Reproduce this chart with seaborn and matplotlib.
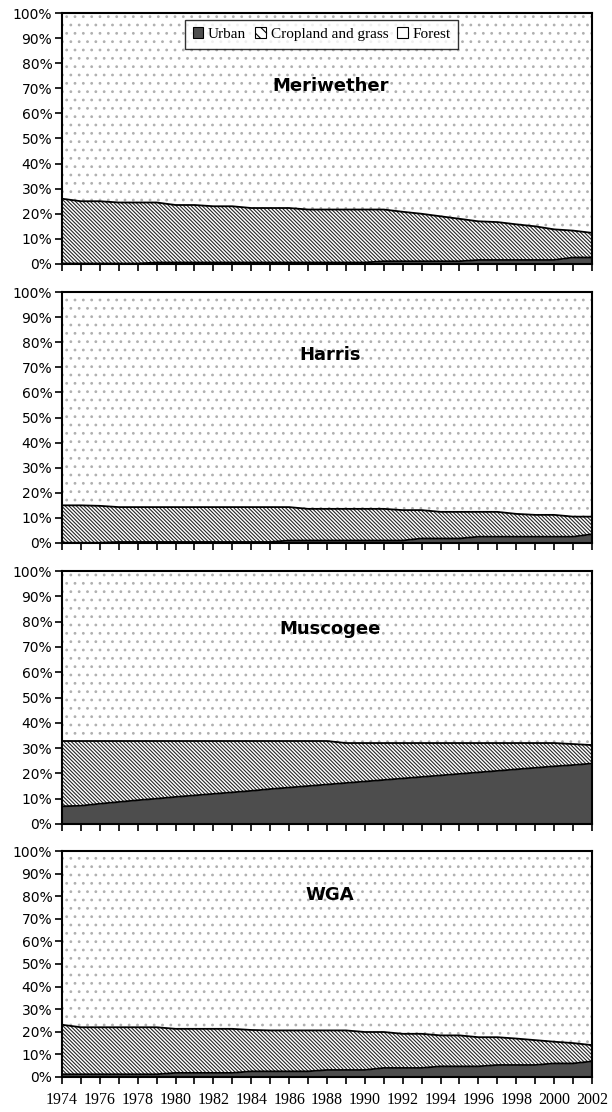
import matplotlib
matplotlib.use("Agg")
import matplotlib.pyplot as plt
from matplotlib.patches import Patch
import seaborn as sns
import pandas as pd

years = list(range(1974, 2003))
counties = ["Meriwether", "Harris", "Muscogee", "WGA"]

# land cover shares in percent (forest is the rest up to 100)
meriwether_urban = [0.2, 0.2, 0.2, 0.2, 0.2, 0.6, 0.6, 0.6, 0.6, 0.6, 0.6, 0.6, 0.6, 0.6, 0.6,
                    0.6, 0.6, 1.1, 1.1, 1.1, 1.1, 1.1, 1.6, 1.6, 1.6, 1.6, 1.6, 2.6, 2.6]
meriwether_crop = [25.8, 24.8, 24.8, 24.3, 24.3, 23.9, 22.9, 22.9, 22.4, 22.4, 21.7, 21.7, 21.7, 21.1, 21.1,
                   21.1, 21.1, 20.6, 19.7, 18.9, 17.9, 16.9, 15.4, 15.1, 14.2, 13.4, 12.2, 10.7, 9.8]

harris_urban = [0.1, 0.1, 0.1, 0.4, 0.4, 0.4, 0.4, 0.4, 0.4, 0.4, 0.4, 0.4, 1.0, 1.0, 1.0,
                1.0, 1.0, 1.0, 1.0, 1.8, 1.8, 1.8, 2.5, 2.5, 2.5, 2.5, 2.5, 2.5, 3.5]
harris_crop = [14.9, 14.9, 14.7, 13.9, 13.9, 13.9, 13.9, 13.9, 13.9, 13.9, 13.9, 13.9, 13.3, 12.6, 12.6,
               12.6, 12.6, 12.6, 12.1, 11.3, 10.6, 10.6, 9.9, 9.9, 9.1, 8.7, 8.7, 8.0, 7.0]

muscogee_urban = [7.0, 7.2, 8.0, 8.7, 9.4, 10.0, 10.7, 11.3, 11.9, 12.5, 13.1, 13.8, 14.4, 15.0, 15.6,
                  16.2, 16.8, 17.4, 18.0, 18.6, 19.2, 19.8, 20.4, 21.0, 21.6, 22.2, 22.8, 23.3, 23.9]
muscogee_crop = [25.8, 25.6, 24.8, 24.1, 23.4, 22.8, 22.1, 21.5, 20.9, 20.3, 19.7, 19.0, 18.4, 17.8, 17.2,
                 15.8, 15.2, 14.6, 14.0, 13.4, 12.8, 12.2, 11.6, 11.0, 10.4, 9.8, 9.2, 8.3, 7.3]

wga_urban = [1.2, 1.2, 1.2, 1.2, 1.2, 1.2, 1.8, 1.8, 1.8, 1.8, 2.5, 2.5, 2.5, 2.5, 3.1,
             3.1, 3.1, 4.0, 4.0, 4.0, 4.7, 4.7, 4.7, 5.3, 5.3, 5.3, 6.0, 6.0, 6.9]
wga_crop = [21.9, 20.8, 20.8, 20.8, 20.8, 20.8, 19.5, 19.5, 19.5, 19.5, 18.3, 18.1, 18.1, 18.1, 17.5,
            17.5, 16.8, 15.9, 15.1, 15.1, 13.7, 13.7, 12.9, 12.3, 11.7, 11.0, 9.6, 9.0, 7.2]

urban_data = [meriwether_urban, harris_urban, muscogee_urban, wga_urban]
crop_data = [meriwether_crop, harris_crop, muscogee_crop, wga_crop]

rows = []
for name, urb, crp in zip(counties, urban_data, crop_data):
    for yr, u, c in zip(years, urb, crp):
        rows.append({"county": name, "year": yr, "urban": u, "crop": c})
df = pd.DataFrame(rows)
df["crop_top"] = df["urban"] + df["crop"]
df["forest_top"] = 100.0

sns.set_style("ticks")
plt.rcParams['font.family'] = ['DejaVu Sans']
plt.rcParams['hatch.linewidth'] = 0.8
plt.rcParams['text.color'] = 'black'
plt.rcParams['xtick.color'] = 'black'
plt.rcParams['ytick.color'] = 'black'
plt.rcParams['xtick.labelcolor'] = 'black'
plt.rcParams['ytick.labelcolor'] = 'black'

fig = plt.figure(figsize=(6.12, 11.12), dpi=100)

# axes boxes in figure fractions [left, bottom, width, height]
boxes = [
    [0.1013, 0.7626, 0.866, 0.2257],
    [0.1013, 0.5117, 0.866, 0.2257],
    [0.1013, 0.2590, 0.866, 0.2275],
    [0.1013, 0.0315, 0.866, 0.2032],
]
title_y = [0.71, 0.75, 0.77, 0.805]

urban_color = "#4d4d4d"
crop_hatch = "\\" * 9
for i, name in enumerate(counties):
    ax = fig.add_axes(boxes[i])
    d = df[df["county"] == name]

    # forest (dotted), cropland (hatched), urban (dark)
    ax.fill_between(d["year"], d["crop_top"], d["forest_top"], facecolor="white",
                    edgecolor="#b0b0b0", hatch="..", linewidth=0)
    ax.fill_between(d["year"], d["urban"], d["crop_top"], facecolor="white",
                    edgecolor="#262626", hatch=crop_hatch, linewidth=0)
    ax.fill_between(d["year"], 0, d["urban"], facecolor=urban_color, linewidth=0)

    sns.lineplot(data=d, x="year", y="crop_top", color="black", linewidth=1.3, ax=ax)
    sns.lineplot(data=d, x="year", y="urban", color="black", linewidth=1.3, ax=ax)

    ax.set_xlim(1974, 2002)
    ax.set_ylim(0, 100)
    ax.set_yticks(range(0, 101, 10))
    ax.set_yticklabels([f"{v}%" for v in range(0, 101, 10)], fontsize=10)
    ax.set_xticks(years)
    if i == len(counties) - 1:
        ax.set_xticklabels([str(y) if y % 2 == 0 else "" for y in years],
                           fontsize=11.5, family="Liberation Serif")
    else:
        ax.set_xticklabels([])
    ax.tick_params(axis="both", direction="out", length=5, width=1.2, color="black", pad=2)
    ax.tick_params(axis="x", pad=6)
    ax.set_xlabel("")
    ax.set_ylabel("")
    for sp in ax.spines.values():
        sp.set_visible(True)
        sp.set_linewidth(1.5)
        sp.set_color("black")

    ax.text(0.506, title_y[i], name, transform=ax.transAxes, ha="center", va="center",
            fontsize=13, fontweight="bold", color="black")

    if i == 0:
        handles = [
            Patch(facecolor=urban_color, edgecolor="black", linewidth=0.8),
            Patch(facecolor="white", edgecolor="black", hatch="\\\\\\", linewidth=0.8),
            Patch(facecolor="white", edgecolor="black", linewidth=0.8),
        ]
        leg = ax.legend(handles, ["Urban", "Cropland and grass", "Forest"], ncol=3,
                        loc="upper center", bbox_to_anchor=(0.49, 0.985),
                        prop={"family": "Liberation Serif", "size": 11},
                        frameon=True, fancybox=False, edgecolor="black",
                        handlelength=0.7, handleheight=0.7, handletextpad=0.3,
                        columnspacing=0.6, borderpad=0.5, borderaxespad=0.2)
        leg.get_frame().set_linewidth(1.0)

fig.savefig("out.png", dpi=100)
